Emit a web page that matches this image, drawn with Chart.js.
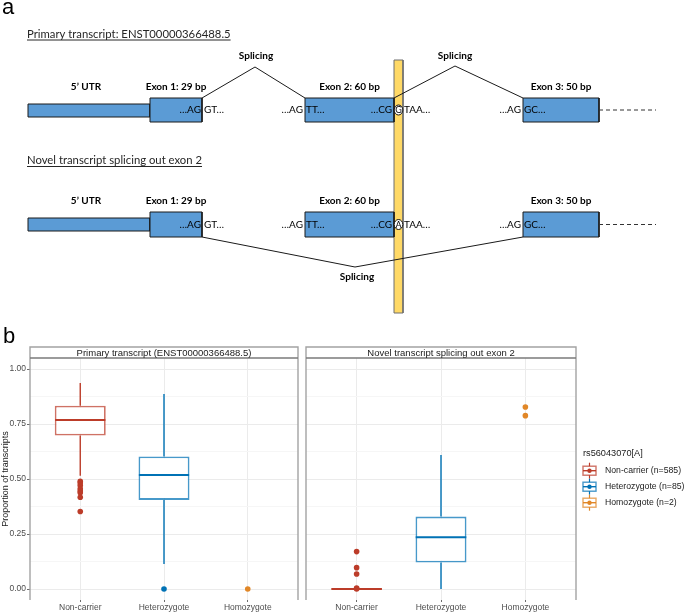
<!DOCTYPE html>
<html>
<head>
<meta charset="utf-8">
<script src="https://cdn.jsdelivr.net/npm/chart.js@4.4.0/dist/chart.umd.min.js"></script>
<style>
  html, body { margin: 0; padding: 0; background: #fff; }
  #page { position: relative; width: 685px; height: 612px; overflow: hidden; }
  canvas { position: absolute; }
  #diagram { left: 0; top: 0; }
  #facetPrimary { left: 0; top: 320px; }
  #facetNovel { left: 302px; top: 320px; }
</style>
</head>
<body>
<div id="page">
  <canvas id="diagram" width="685" height="320"></canvas>
  <canvas id="facetPrimary" width="302" height="292"></canvas>
  <canvas id="facetNovel" width="383" height="292"></canvas>
</div>
<script>
// ---------- panel a: transcript diagram (diagram units) ----------
const rowTitles = ['Primary transcript: ENST00000366488.5', 'Novel transcript splicing out exon 2'];
const rowTitleY = [37.5, 164];
const rowLabelY = [87, 201];
const rowBoxTop = [98, 212];
const rowBoxBottom = [122, 237];
const rowUtrTop = [104, 218];
const rowUtrBottom = [117, 231];
const rowSeqY = [110, 224.5];
const utrLabel = '5\u2019 UTR';
const utrStart = 28;
const utrLabelX = 86;
const exonLabels = ['Exon 1: 29 bp', 'Exon 2: 60 bp', 'Exon 3: 50 bp'];
const exonStart = [150, 305, 523];
const exonEnd = [202, 394, 599];
const tailEnd = 656;
const seqBefore = ['\u2026AG', '\u2026AG', '\u2026CG', '\u2026AG'];
const seqBeforeEnd = [201, 303, 392, 521];
const seqAfter = ['GT\u2026', 'TT\u2026', 'TAA\u2026', 'GC\u2026'];
const seqAfterStart = [204, 306, 404, 524];
const variantAlleles = ['G', 'A'];
const variantX = [394, 403];
const variantY = [60, 313];
const spliceRow1a = [[202, 98], [255, 67], [305, 98]];
const spliceRow1b = [[394, 98], [455, 66], [523, 98]];
const spliceRow2 = [[202, 237], [355, 267], [523, 237]];
const spliceLabelPos = [[256, 55.5], [455, 55.5], [357, 277]];

// ---------- panel b: boxplots ----------
const genotypes = ['Non-carrier', 'Heterozygote', 'Homozygote'];
const legendTitle = 'rs56043070[A]';
const legendLabels = ['Non-carrier (n=585)', 'Heterozygote (n=85)', 'Homozygote (n=2)'];
const stripTitles = ['Primary transcript (ENST00000366488.5)', 'Novel transcript splicing out exon 2'];
const yTicks = [0, 0.25, 0.5, 0.75, 1];
const yMinorTicks = [0.125, 0.375, 0.625, 0.875];

const primaryLow = [0.515, 0.114, null];
const primaryQ1 = [0.698, 0.405, null];
const primaryMedian = [0.768, 0.518, null];
const primaryQ3 = [0.833, 0.602, null];
const primaryHigh = [0.936, 0.886, null];
const primaryOutliers = [[0.49, 0.482, 0.47, 0.456, 0.445, 0.437, 0.417, 0.352], [0], [0]];

const novelLow = [0, 0, null];
const novelQ1 = [0, 0.12, null];
const novelMedian = [0, 0.235, null];
const novelQ3 = [0, 0.329, null];
const novelHigh = [0, 0.609, null];
const novelOutliers = [[0.17, 0.097, 0.068, 0.004, 0], [], [0.827, 0.788]];

const genotypeColors = ['#BC3C29', '#0072B5', '#E18727'];
const boxColors = ['rgba(188,60,41,0.72)', 'rgba(0,114,181,0.72)', 'rgba(225,135,39,0.72)'];

const plotFont = '"Liberation Sans", Arial, sans-serif';
const diagramFont = 'Lato, "Open Sans", sans-serif';
Chart.defaults.font.family = plotFont;

function rectShape(x0, x1, y0, y1) {
    return [{ x: x0, y: y0 }, { x: x1, y: y0 }, { x: x1, y: y1 }, { x: x0, y: y1 }, { x: x0, y: y0 }];
}

function buildDiagram() {
    const base = { type: 'line', pointRadius: 0, tension: 0, borderWidth: 1 };
    const datasets = [];
    datasets.push({ ...base, data: rectShape(variantX[0], variantX[1], variantY[0], variantY[1]),
        backgroundColor: '#FFD966', borderColor: '#6f6f6f', fill: 'shape', order: 10 });
    rowTitles.forEach((t, r) => {
        datasets.push({ ...base, data: rectShape(utrStart, exonStart[0], rowUtrTop[r], rowUtrBottom[r]),
            backgroundColor: '#5B9BD5', borderColor: '#1a1a1a', fill: 'shape', order: 6 });
        exonStart.forEach((x0, i) => {
            datasets.push({ ...base, data: rectShape(x0, exonEnd[i], rowBoxTop[r], rowBoxBottom[r]),
                backgroundColor: '#5B9BD5', borderColor: '#1a1a1a', fill: 'shape', order: 5 });
        });
        datasets.push({ ...base, data: [{ x: exonEnd[2], y: rowSeqY[r] }, { x: tailEnd, y: rowSeqY[r] }],
            borderColor: '#333', borderDash: [4, 3], fill: false, order: 4 });
    });
    [spliceRow1a, spliceRow1b, spliceRow2].forEach(path => {
        datasets.push({ ...base, data: path.map(([x, y]) => ({ x, y })), borderColor: '#1a1a1a', fill: false, order: 2 });
    });

    const diagramText = {
        id: 'diagramText',
        afterDatasetsDraw(chart) {
            const { ctx, scales: { x, y } } = chart;
            const px = v => x.getPixelForValue(v);
            const py = v => y.getPixelForValue(v);
            ctx.save();
            ctx.fillStyle = '#000';

            ctx.font = '22px ' + plotFont;
            ctx.textAlign = 'left';
            ctx.textBaseline = 'alphabetic';
            ctx.fillText('a', px(2), py(14));

            // underlined row titles
            ctx.font = '11.3px ' + diagramFont;
            ctx.fillStyle = '#262626';
            rowTitles.forEach((t, r) => {
                ctx.fillText(t, px(27), py(rowTitleY[r]));
                const w = ctx.measureText(t).width;
                ctx.strokeStyle = '#262626';
                ctx.lineWidth = 1;
                ctx.beginPath();
                ctx.moveTo(px(27), py(rowTitleY[r]) + 2.5);
                ctx.lineTo(px(27) + w, py(rowTitleY[r]) + 2.5);
                ctx.stroke();
            });

            ctx.fillStyle = '#000';
            ctx.textBaseline = 'middle';
            ctx.textAlign = 'center';
            ctx.font = 'bold 10px ' + diagramFont;
            rowTitles.forEach((t, r) => {
                ctx.fillText(utrLabel, px(utrLabelX), py(rowLabelY[r]));
                exonLabels.forEach((lab, i) => {
                    ctx.fillText(lab, px((exonStart[i] + exonEnd[i]) / 2), py(rowLabelY[r]));
                });
            });
            spliceLabelPos.forEach(([sx, sy]) => ctx.fillText('Splicing', px(sx), py(sy)));

            ctx.font = '10px ' + diagramFont;
            rowTitles.forEach((t, r) => {
                ctx.textAlign = 'right';
                seqBefore.forEach((s, i) => ctx.fillText(s, px(seqBeforeEnd[i]), py(rowSeqY[r])));
                ctx.textAlign = 'left';
                seqAfter.forEach((s, i) => ctx.fillText(s, px(seqAfterStart[i]), py(rowSeqY[r])));
            });

            // circled variant allele on the yellow bar
            const cx = px((variantX[0] + variantX[1]) / 2);
            variantAlleles.forEach((a, r) => {
                const cy = py(rowSeqY[r]);
                ctx.beginPath();
                ctx.ellipse(cx, cy, 4.3, 5, 0, 0, Math.PI * 2);
                ctx.fillStyle = '#fff';
                ctx.fill();
                ctx.strokeStyle = '#000';
                ctx.lineWidth = 0.9;
                ctx.stroke();
                ctx.fillStyle = '#000';
                ctx.textAlign = 'center';
                ctx.font = '9px ' + diagramFont;
                ctx.fillText(a, cx, cy + 0.5);
            });
            ctx.restore();
        }
    };

    new Chart(document.getElementById('diagram'), {
        type: 'scatter',
        data: { datasets },
        options: {
            responsive: false,
            animation: false,
            events: [],
            devicePixelRatio: 1,
            layout: { padding: 0 },
            plugins: { legend: { display: false }, tooltip: { enabled: false } },
            scales: {
                x: { type: 'linear', min: 0, max: 685, display: false },
                y: { type: 'linear', min: 0, max: 320, reverse: true, display: false }
            }
        },
        plugins: [diagramText]
    });
}

function isMajor(v) {
    return yTicks.some(t => Math.abs(t - v) < 1e-9);
}

function buildFacet(canvasId, stripText, stats, isFirst) {
    const datasets = [];
    genotypes.forEach((g, i) => {
        const x = i + 1;
        if (stats.median[i] !== null) {
            datasets.push({
                type: 'line', order: 4, pointRadius: 0, spanGaps: false, borderWidth: 1.4,
                borderColor: genotypeColors[i],
                data: [{ x, y: stats.high[i] }, { x, y: stats.q3[i] }, { x, y: null }, { x, y: stats.q1[i] }, { x, y: stats.low[i] }]
            });
            datasets.push({
                type: 'bar', order: 3, grouped: false, barThickness: 51, inflateAmount: 0,
                borderSkipped: false, borderWidth: 1.8, backgroundColor: '#fff', borderColor: boxColors[i],
                data: [{ x, y: [stats.q1[i], stats.q3[i]] }]
            });
            datasets.push({
                type: 'line', order: 2, pointRadius: 0, borderWidth: 2,
                borderColor: genotypeColors[i],
                data: [{ x: x - 0.3, y: stats.median[i] }, { x: x + 0.3, y: stats.median[i] }]
            });
        }
        datasets.push({
            type: 'scatter', order: 1, pointRadius: 2.8, borderWidth: 0,
            backgroundColor: genotypeColors[i],
            data: stats.outliers[i].map(v => ({ x, y: v }))
        });
    });

    const facetFrame = {
        id: 'facetFrame',
        afterDraw(chart) {
            const { ctx, chartArea: { left, right, top, bottom } } = chart;
            const stripTop = top - 11;
            ctx.save();
            ctx.fillStyle = '#fff';
            ctx.fillRect(left, stripTop, right - left, top - stripTop);
            ctx.strokeStyle = '#a3a3a3';
            ctx.lineWidth = 1.4;
            ctx.beginPath();
            ctx.moveTo(left, bottom); ctx.lineTo(left, stripTop); ctx.lineTo(right, stripTop); ctx.lineTo(right, bottom);
            ctx.stroke();
            ctx.strokeStyle = '#7a7a7a';
            ctx.lineWidth = 1.6;
            ctx.beginPath();
            ctx.moveTo(left, top); ctx.lineTo(right, top);
            ctx.stroke();
            ctx.fillStyle = '#1a1a1a';
            ctx.font = '9.5px ' + plotFont;
            ctx.textAlign = 'center';
            ctx.textBaseline = 'middle';
            ctx.fillText(stripText, (left + right) / 2, (stripTop + top) / 2 + 0.5);

            if (isFirst) {
                ctx.fillStyle = '#000';
                ctx.font = '22px ' + plotFont;
                ctx.textAlign = 'left';
                ctx.textBaseline = 'alphabetic';
                ctx.fillText('b', 3, 23);
            } else {
                // ggplot-style legend with boxplot keys
                ctx.fillStyle = '#1a1a1a';
                ctx.font = '9.2px ' + plotFont;
                ctx.textAlign = 'left';
                ctx.fillText(legendTitle, 281, 133);
                ctx.font = '8.7px ' + plotFont;
                legendLabels.forEach((lab, i) => {
                    const cx = 287.5, cy = 150.7 + i * 16;
                    ctx.strokeStyle = genotypeColors[i];
                    ctx.lineWidth = 1.2;
                    ctx.beginPath();
                    ctx.moveTo(cx, cy - 8); ctx.lineTo(cx, cy + 8);
                    ctx.stroke();
                    ctx.fillStyle = '#fff';
                    ctx.fillRect(cx - 6.5, cy - 4.5, 13, 9);
                    ctx.strokeStyle = boxColors[i];
                    ctx.lineWidth = 1.4;
                    ctx.strokeRect(cx - 6.5, cy - 4.5, 13, 9);
                    ctx.strokeStyle = genotypeColors[i];
                    ctx.beginPath();
                    ctx.moveTo(cx - 6.5, cy); ctx.lineTo(cx + 6.5, cy);
                    ctx.stroke();
                    ctx.fillStyle = genotypeColors[i];
                    ctx.beginPath();
                    ctx.arc(cx, cy, 2.2, 0, Math.PI * 2);
                    ctx.fill();
                    ctx.fillStyle = '#1a1a1a';
                    ctx.fillText(lab, 303, cy);
                });
            }
            ctx.restore();
        }
    };

    return new Chart(document.getElementById(canvasId), {
        type: 'scatter',
        data: { datasets },
        options: {
            responsive: false,
            animation: false,
            events: [],
            devicePixelRatio: 1,
            layout: { padding: isFirst ? { top: 38, left: 0, right: 1, bottom: 0 } : { top: 38, left: 2, right: 109, bottom: 0 } },
            plugins: { legend: { display: false }, tooltip: { enabled: false } },
            scales: {
                x: {
                    type: 'linear', min: 0.4, max: 3.6, offset: false,
                    afterBuildTicks: sc => { sc.ticks = genotypes.map((g, i) => ({ value: i + 1 })); },
                    afterFit: sc => { sc.height = 12; },
                    ticks: { callback: v => genotypes[v - 1], color: '#4d4d4d', font: { size: 8.5 }, padding: 1, maxRotation: 0, autoSkip: false },
                    grid: { color: '#ebebeb', lineWidth: 1, tickLength: 2, tickColor: '#6b6b6b', offset: false },
                    border: { display: false }
                },
                y: {
                    type: 'linear', min: -0.05, max: 1.05,
                    afterBuildTicks: sc => { sc.ticks = yTicks.concat(yMinorTicks).sort((a, b) => a - b).map(v => ({ value: v })); },
                    afterFit: sc => { sc.width = isFirst ? 30 : 0; },
                    ticks: {
                        display: isFirst, autoSkip: false, padding: 1, color: '#4d4d4d', font: { size: 8.5 },
                        callback: v => isMajor(v) ? v.toFixed(2) : ''
                    },
                    grid: {
                        drawTicks: isFirst, tickLength: 3,
                        color: ctx => isMajor(ctx.tick.value) ? '#ebebeb' : '#f6f6f6',
                        tickColor: ctx => isMajor(ctx.tick.value) ? '#6b6b6b' : 'rgba(0,0,0,0)'
                    },
                    border: { display: false },
                    title: { display: isFirst, text: 'Proportion of transcripts', color: '#1a1a1a', font: { size: 9 }, padding: 0 }
                }
            }
        },
        plugins: [facetFrame]
    });
}

buildDiagram();
buildFacet('facetPrimary', stripTitles[0], {
    low: primaryLow, q1: primaryQ1, median: primaryMedian, q3: primaryQ3, high: primaryHigh, outliers: primaryOutliers
}, true);
buildFacet('facetNovel', stripTitles[1], {
    low: novelLow, q1: novelQ1, median: novelMedian, q3: novelQ3, high: novelHigh, outliers: novelOutliers
}, false);
</script>
</body>
</html>
